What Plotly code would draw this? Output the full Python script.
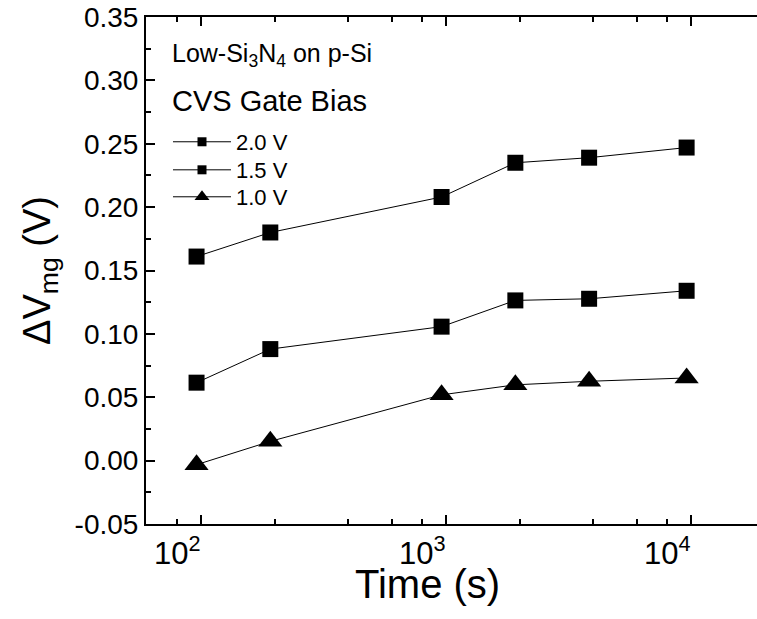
import plotly.graph_objects as go
import math

# ---- data ----
time_s = [96, 192, 960, 1920, 3840, 9600]
dv_20 = [0.161, 0.180, 0.208, 0.235, 0.239, 0.247]
dv_15 = [0.0615, 0.088, 0.1057, 0.1264, 0.1277, 0.134]
dv_10 = [-0.0032, 0.0152, 0.0519, 0.0598, 0.0626, 0.0652]
series_names = ["2.0 V", "1.5 V", "1.0 V"]
series_symbols = ["square", "square", "triangle-up"]

x_major = [100, 1000, 10000]
x_major_text = ["10<sup>2</sup>", "10<sup>3</sup>", "10<sup>4</sup>"]
x_minor = [80, 200, 400, 600, 800, 2000, 4000, 6000, 8000]
y_major = [-0.05, 0.0, 0.05, 0.10, 0.15, 0.20, 0.25, 0.30, 0.35]

FONT = "Arial, Liberation Sans, sans-serif"

fig = go.Figure()
data_sets = [dv_20, dv_15, dv_10]
data_sizes = [16, 16, 21]
legend_sizes = [9, 9, 13]
legend_ids = ["legend", "legend2", "legend3"]
legend_rows_y = [0.7535, 0.6982, 0.645]

for name, ys, sym, sz in zip(series_names, data_sets, series_symbols, data_sizes):
    fig.add_trace(go.Scatter(
        x=time_s, y=ys, mode="lines+markers", showlegend=False,
        line=dict(color="black", width=1),
        marker=dict(symbol=sym, size=sz, color="black", line=dict(width=0)),
    ))
# legend entries (no data points), one legend per row
for name, sym, sz, lid in zip(series_names, series_symbols, legend_sizes, legend_ids):
    fig.add_trace(go.Scatter(
        x=[None], y=[None], mode="lines+markers", name=name, showlegend=True,
        legend=lid,
        line=dict(color="black", width=1),
        marker=dict(symbol=sym, size=sz, color="black", line=dict(width=0)),
    ))

legend_style = dict(
    xanchor="left", yanchor="middle", bgcolor="rgba(0,0,0,0)",
    font=dict(size=22, family=FONT, color="black"), itemwidth=58,
)
fig.update_layout(
    width=757, height=619,
    margin=dict(l=146, r=0, t=17, b=95),
    paper_bgcolor="white", plot_bgcolor="white",
    font=dict(family=FONT, color="black"),
    showlegend=True,
    legend=dict(x=0.036, y=legend_rows_y[0], **legend_style),
    legend2=dict(x=0.036, y=legend_rows_y[1], **legend_style),
    legend3=dict(x=0.036, y=legend_rows_y[2], **legend_style),
)

fig.update_xaxes(
    type="log", range=[math.log10(59.7), math.log10(18600)],
    showline=True, linecolor="black", linewidth=2, mirror="ticks",
    ticks="inside", ticklen=9, tickwidth=2, tickcolor="black",
    tickvals=x_major, showticklabels=False,
    minor=dict(tickvals=x_minor, ticks="inside", ticklen=5, tickwidth=2, tickcolor="black"),
    showgrid=False, zeroline=False,
)
fig.update_yaxes(
    range=[-0.05, 0.35],
    showline=True, linecolor="black", linewidth=2, mirror=False,
    ticks="inside", ticklen=9, tickwidth=2, tickcolor="black",
    tickvals=y_major, ticktext=[f"{v:.2f}" for v in y_major],
    tickfont=dict(size=28, family=FONT),
    minor=dict(dtick=0.025, ticks="inside", ticklen=5, tickwidth=2, tickcolor="black"),
    showgrid=False, zeroline=False,
    title=dict(text="ΔV<sub>mg</sub> (V)", font=dict(size=38, family=FONT), standoff=12),
)

# x tick labels (placed at the axis' own tick values)
for v, t in zip(x_major, x_major_text):
    fig.add_annotation(
        xref="x", yref="paper", x=math.log10(v), y=-0.009, xshift=-23,
        xanchor="center", yanchor="top", text=t, showarrow=False,
        font=dict(size=31, family=FONT, color="black"),
    )

# x axis title
fig.add_annotation(
    xref="paper", yref="paper", x=0.4615, y=-0.119, xanchor="center", yanchor="middle",
    text="Time (s)", showarrow=False, font=dict(size=40, family=FONT, color="black"),
)

fig.add_annotation(
    xref="paper", yref="paper", x=0.040, y=0.925, xanchor="left", yanchor="middle",
    text="Low-Si<sub>3</sub>N<sub>4</sub> on p-Si", showarrow=False,
    font=dict(size=25, family=FONT, color="black"),
)
fig.add_annotation(
    xref="paper", yref="paper", x=0.040, y=0.835, xanchor="left", yanchor="middle",
    text="CVS Gate Bias", showarrow=False,
    font=dict(size=29, family=FONT, color="black"),
)

fig.write_html("out.html")
